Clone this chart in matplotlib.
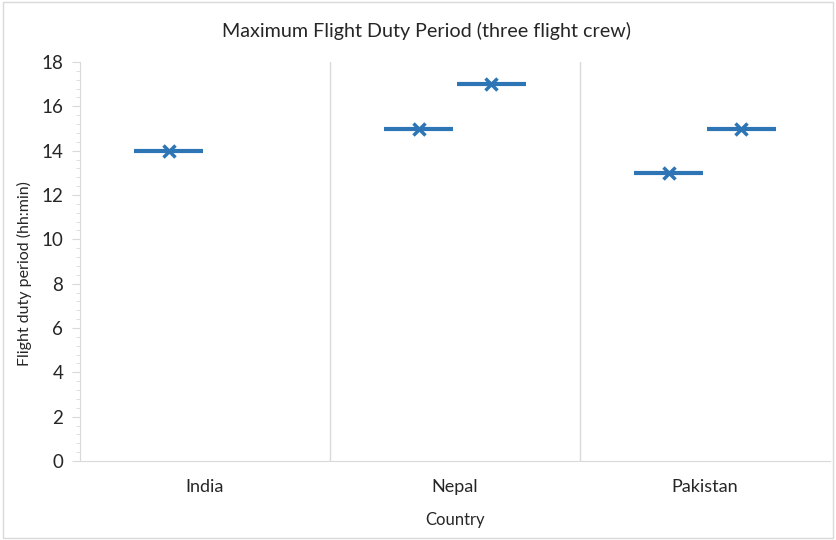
import numpy as np
import matplotlib.pyplot as plt
from matplotlib.ticker import MultipleLocator
from matplotlib.patches import Rectangle

countries = ["India", "Nepal", "Pakistan"]
series_a = [14, 15, 13]            # first value per country
series_b = [np.nan, 17, 15]        # second value (India has none)

plt.rcParams['font.family'] = ['Lato', 'DejaVu Sans']
blue = "#2E75B6"
grey = "#D9D9D9"
txt = "#262626"

fig = plt.figure(figsize=(8.36, 5.4), dpi=100)
ax = fig.add_axes([80/836, 79/540, 750/836, 399/540])

x = np.arange(len(countries))
off = 0.145
half = 0.138
for xs, ys in ((x - off, series_a), (x + off, series_b)):
    ax.errorbar(xs, ys, xerr=half, fmt="x", color=blue, ecolor=blue,
                elinewidth=3, capsize=0, markersize=9, mew=2.5)

ax.set_xlim(-0.5, 2.5)
ax.set_ylim(0, 18)
ax.set_xticks(x)
ax.set_xticklabels(countries, fontsize=13, color=txt)
ax.tick_params(axis="x", length=0, pad=13)
ax.yaxis.set_major_locator(MultipleLocator(2))
ax.yaxis.set_minor_locator(MultipleLocator(0.4))
ax.tick_params(axis="y", which="major", length=6, color=grey, labelsize=13.5,
               labelcolor=txt, pad=6)
ax.tick_params(axis="y", which="minor", length=3, color=grey)

for b in (0.5, 1.5):
    ax.axvline(b, color=grey, lw=1)

for s in ("top", "right"):
    ax.spines[s].set_visible(False)
ax.spines["left"].set_color(grey)
ax.spines["bottom"].set_color(grey)

fig.text(426/836, 1 - 31/540, "Maximum Flight Duty Period (three flight crew)",
         fontsize=14.2, color=txt, ha="center", va="center")
ax.set_xlabel("Country", fontsize=12, color=txt, labelpad=12)
ax.set_ylabel("Flight duty period (hh:min)", fontsize=11.5, color=txt)
ax.yaxis.set_label_coords(32/836, 266/540, transform=fig.transFigure)

fig.patches.append(Rectangle((0.003, 0.003), 0.994, 0.994, transform=fig.transFigure,
                             fill=False, edgecolor=grey, lw=1))

fig.savefig("out.png", dpi=100)
